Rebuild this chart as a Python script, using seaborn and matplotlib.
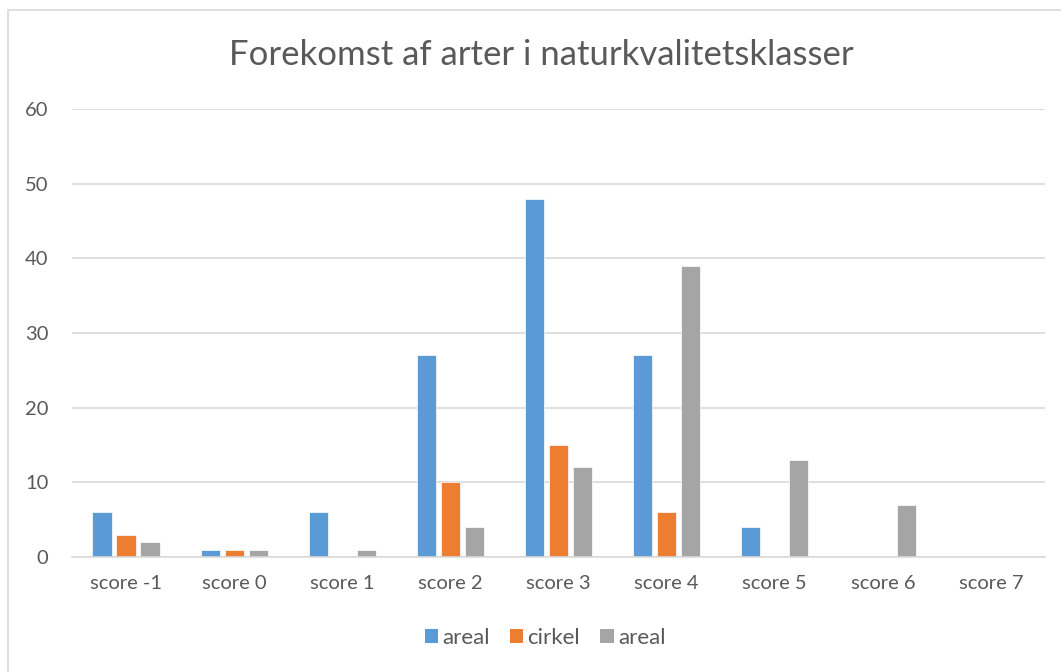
import matplotlib
matplotlib.use("Agg")
import matplotlib.pyplot as plt
import seaborn as sns
import pandas as pd
from matplotlib.patches import Rectangle, Patch

categories = ["score -1", "score 0", "score 1", "score 2", "score 3", "score 4", "score 5", "score 6", "score 7"]
areal_1 = [6, 1, 6, 27, 48, 27, 4, 0, 0]
cirkel = [3, 1, 0, 10, 15, 6, 0, 0, 0]
areal_2 = [2, 1, 1, 4, 12, 39, 13, 7, 0]
series_keys = ["s1", "s2", "s3"]
series_labels = ["areal", "cirkel", "areal"]
colors = ["#5B9BD5", "#ED7D31", "#A5A5A5"]
y_ticks = [0, 10, 20, 30, 40, 50, 60]
title = "Forekomst af arter i naturkvalitetsklasser"

rows = []
for key, vals in zip(series_keys, [areal_1, cirkel, areal_2]):
    for c, v in zip(categories, vals):
        rows.append({"cat": c, "series": key, "value": v})
df = pd.DataFrame(rows)

sns.set_theme(style="white")
plt.rcParams["font.family"] = ["Lato", "DejaVu Sans"]
text_color = "#595959"

fig = plt.figure(figsize=(10.61, 6.72), dpi=100)
fig.patches.append(Rectangle((8 / 1061, -0.01), 1.1, 1 - 10 / 672 + 0.01,
                             transform=fig.transFigure, fill=False,
                             edgecolor="#D9D9D9", linewidth=1.2))
ax = fig.add_axes([72 / 1061, 1 - 557 / 672, (1045 - 72) / 1061, (557 - 109) / 672])

sns.barplot(data=df, x="cat", y="value", hue="series", order=categories,
            hue_order=series_keys, palette=colors, width=0.667, gap=0.2,
            saturation=1, legend=False, ax=ax, edgecolor="white", linewidth=0.5)

ax.set_ylim(0, 60)
ax.set_xlim(-0.5, len(categories) - 0.5)
ax.set_yticks(y_ticks)
ax.yaxis.grid(True, color="#D9D9D9", linewidth=1.2)
ax.set_axisbelow(True)
for s in ["top", "right", "left"]:
    ax.spines[s].set_visible(False)
ax.spines["bottom"].set_color("#D9D9D9")
ax.spines["bottom"].set_linewidth(1.2)
ax.set_xlabel("")
ax.set_ylabel("")
ax.tick_params(axis="both", length=0, labelsize=14.5, colors=text_color)
ax.tick_params(axis="x", pad=13)
ax.tick_params(axis="y", pad=17)

fig.text(541 / 1061, 1 - 55 / 672, title, ha="center", va="center",
         fontsize=25, color=text_color)

handles = [Patch(facecolor=c, edgecolor="none") for c in colors]
fig.legend(handles, series_labels, loc="center", bbox_to_anchor=(545 / 1061, 1 - 638 / 672),
           ncol=3, frameon=False, fontsize=16, labelcolor=text_color,
           handlelength=0.6, handleheight=0.6, handletextpad=0.2, columnspacing=0.9)

fig.savefig("out.png", dpi=100)
